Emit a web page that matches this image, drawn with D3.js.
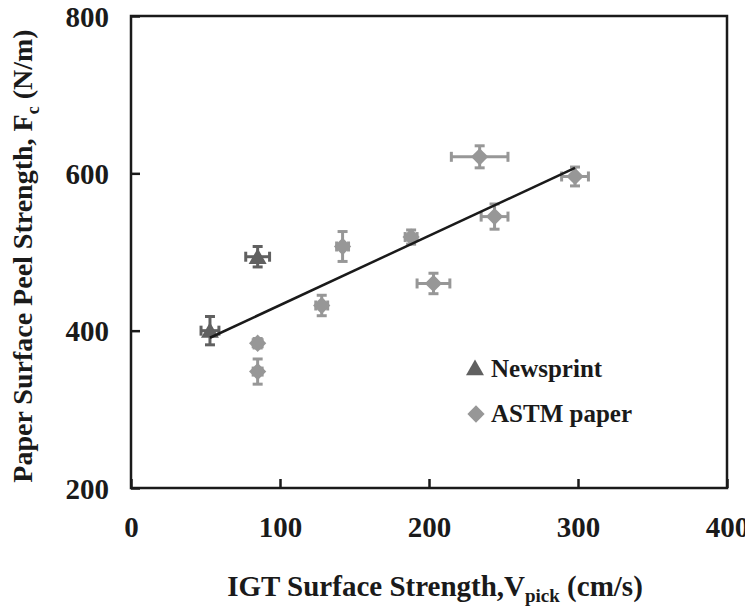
<!DOCTYPE html>
<html>
<head>
<meta charset="utf-8">
<script src="https://cdn.jsdelivr.net/npm/d3@7"></script>
<style>
  body { margin: 0; background: #fff; }
  svg text { font-family: "Liberation Serif", "Times New Roman", serif; font-weight: bold; fill: #1a1a1a; }
</style>
</head>
<body>
<svg id="chart" width="745" height="606"></svg>
<script>
// Newsprint (triangles)
var newsX = [53, 85];
var newsY = [400, 494];
var newsXErr = [6, 8];
var newsYErr = [18, 13];

// ASTM paper (diamonds)
var astmX = [85, 85, 128, 142, 188, 203, 234, 244, 298];
var astmY = [384, 348, 432, 507, 519, 460, 621, 545, 596];
var astmXErr = [3, 3, 4, 4, 4, 11, 19, 9, 9];
var astmYErr = [6, 16, 13, 19, 9, 13, 14, 16, 12];

// linear fit end points
var fitX = [53, 298];
var fitY = [391, 607];

var xTicks = [0, 100, 200, 300, 400];
var yTicks = [200, 400, 600, 800];
var legendNames = ["Newsprint", "ASTM paper"];

var newsColor = "#606060";
var astmColor = "#979797";

var svg = d3.select("#chart");
var plotLeft = 131, plotRight = 727, plotTop = 16, plotBottom = 488;

var x = d3.scaleLinear().domain([0, 400]).range([plotLeft, plotRight]);
var y = d3.scaleLinear().domain([200, 800]).range([plotBottom, plotTop]);

// frame
svg.append("rect")
    .attr("x", plotLeft).attr("y", plotTop)
    .attr("width", plotRight - plotLeft).attr("height", plotBottom - plotTop)
    .attr("fill", "none").attr("stroke", "#1a1a1a").attr("stroke-width", 2.5);

// axes with inward ticks
var xAxis = svg.append("g").attr("transform", "translate(0," + plotBottom + ")")
    .call(d3.axisBottom(x).tickValues(xTicks).tickSizeInner(-9).tickSizeOuter(0).tickPadding(28));
var yAxis = svg.append("g").attr("transform", "translate(" + plotLeft + ",0)")
    .call(d3.axisLeft(y).tickValues(yTicks).tickSizeInner(-9).tickSizeOuter(0).tickPadding(22));

[xAxis, yAxis].forEach(function(a){
    a.select(".domain").remove();
    a.selectAll("line").attr("stroke", "#1a1a1a").attr("stroke-width", 2.5);
    a.selectAll("text").style("font-size", "29px").style("font-family", "Liberation Serif").style("font-weight", "bold").attr("fill", "#1a1a1a");
});
yAxis.selectAll("text").attr("dy", "0.35em");

// error bars
function drawErrors(xs, ys, xe, ye, color){
    var g = svg.append("g").attr("stroke", color).attr("stroke-width", 3).attr("fill", "none");
    var cap = 5;
    for(var i = 0; i < xs.length; i++){
        var cx = x(xs[i]), cy = y(ys[i]);
        var x0 = x(xs[i] - xe[i]), x1 = x(xs[i] + xe[i]);
        var y0 = y(ys[i] - ye[i]), y1 = y(ys[i] + ye[i]);
        g.append("line").attr("x1", x0).attr("x2", x1).attr("y1", cy).attr("y2", cy);
        g.append("line").attr("x1", x0).attr("x2", x0).attr("y1", cy - cap).attr("y2", cy + cap);
        g.append("line").attr("x1", x1).attr("x2", x1).attr("y1", cy - cap).attr("y2", cy + cap);
        g.append("line").attr("x1", cx).attr("x2", cx).attr("y1", y0).attr("y2", y1);
        g.append("line").attr("x1", cx - cap).attr("x2", cx + cap).attr("y1", y0).attr("y2", y0);
        g.append("line").attr("x1", cx - cap).attr("x2", cx + cap).attr("y1", y1).attr("y2", y1);
    }
}
drawErrors(astmX, astmY, astmXErr, astmYErr, astmColor);
drawErrors(newsX, newsY, newsXErr, newsYErr, newsColor);

var diamond = d3.symbol().type(d3.symbolDiamond2).size(190);
var triangle = d3.symbol().type(d3.symbolTriangle).size(140);

astmX.forEach(function(v, i){
    svg.append("path").attr("d", diamond())
        .attr("transform", "translate(" + x(v) + "," + y(astmY[i]) + ")")
        .attr("fill", astmColor);
});
newsX.forEach(function(v, i){
    svg.append("path").attr("d", triangle())
        .attr("transform", "translate(" + x(v) + "," + (y(newsY[i]) + 2) + ")")
        .attr("fill", newsColor);
});

// fit line
svg.append("line")
    .attr("x1", x(fitX[0])).attr("y1", y(fitY[0]))
    .attr("x2", x(fitX[1])).attr("y2", y(fitY[1]))
    .attr("stroke", "#1a1a1a").attr("stroke-width", 2.5);

// legend
var legend = svg.append("g");
legend.append("path").attr("d", triangle()).attr("transform", "translate(475,370)").attr("fill", newsColor);
legend.append("path").attr("d", diamond()).attr("transform", "translate(476,414)").attr("fill", astmColor);
legend.append("text").attr("x", 491).attr("y", 377).style("font-size", "25px").text(legendNames[0]);
legend.append("text").attr("x", 491).attr("y", 422).style("font-size", "25px").text(legendNames[1]);

// axis titles
var xt = svg.append("text").attr("x", 435).attr("y", 596).attr("text-anchor", "middle").style("font-size", "29px");
xt.append("tspan").text("IGT Surface Strength,V");
xt.append("tspan").attr("dy", 6).style("font-size", "19px").text("pick");
xt.append("tspan").attr("dy", -6).text(" (cm/s)");

var yt = svg.append("text").attr("transform", "translate(32,256) rotate(-90)").attr("text-anchor", "middle").style("font-size", "28px");
yt.append("tspan").text("Paper Surface Peel Strength, F");
yt.append("tspan").attr("dy", 7).style("font-size", "18px").text("c");
yt.append("tspan").attr("dy", -7).text(" (N/m)");
</script>
</body>
</html>
